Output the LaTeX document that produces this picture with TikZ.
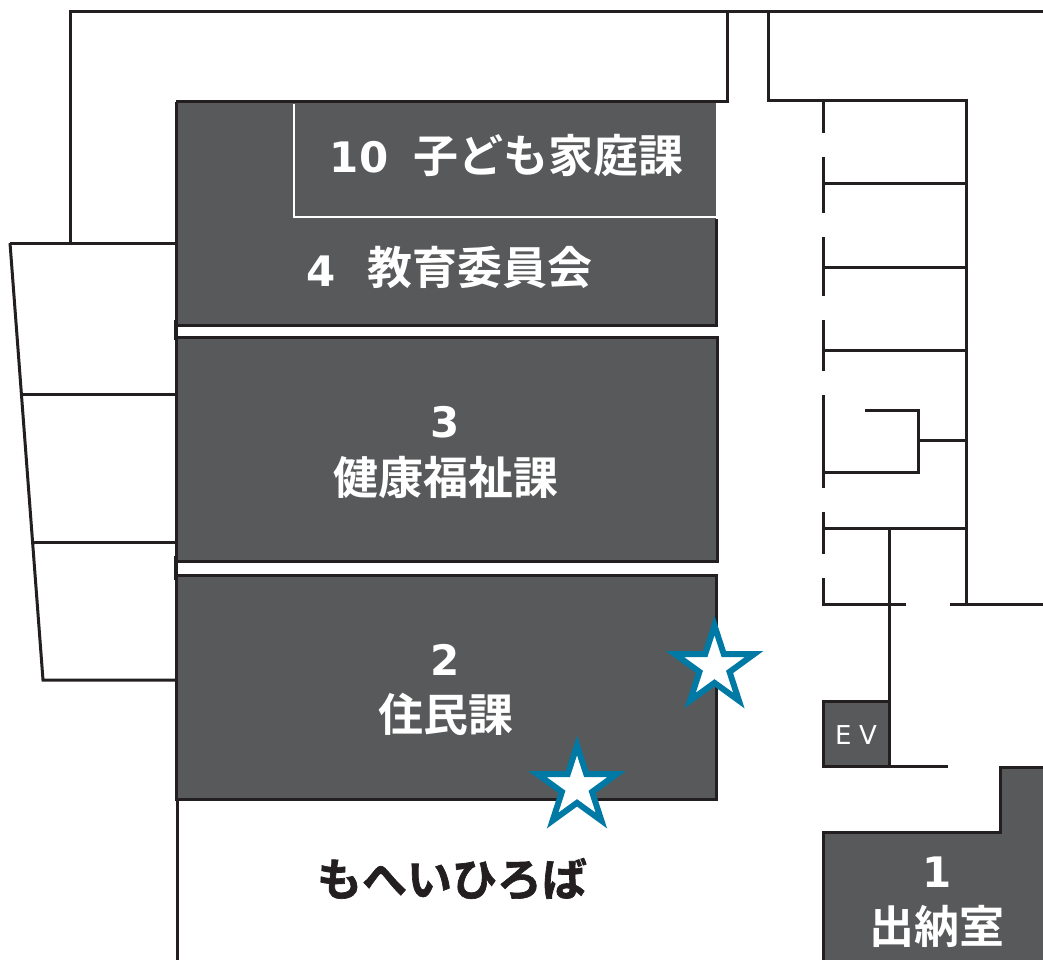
\documentclass[tikz,border=0pt]{standalone}
\usepackage{fontspec}
\usetikzlibrary{shapes.geometric}
\setmainfont{DejaVu Sans}[BoldFont={DejaVu Sans Bold}]
\newfontfamily\jpfont{Noto Sans CJK JP}[BoldFont={Noto Sans CJK JP Bold}]
\newfontfamily\jpheavy{Noto Sans CJK JP Bold}[FakeBold=1.5]
\definecolor{roomgrey}{HTML}{58595B}
\definecolor{wall}{HTML}{231F20}
\definecolor{starblue}{HTML}{0079A5}
\tikzset{
  wallline/.style={draw=wall,line width=3pt,line cap=butt},
  room/.style={fill=roomgrey,draw=wall,line width=3pt,miter limit=10},
  numlabel/.style={text=white,font=\fontsize{42}{42}\selectfont\bfseries,inner sep=0pt},
  jplabel/.style={text=white,font=\fontsize{45}{45}\selectfont\jpfont\bfseries,inner sep=0pt},
  mapstar/.style={star,star points=5,star point ratio=2.618,draw=starblue,fill=white,line width=6pt,minimum size=83pt,inner sep=0pt,miter limit=10}
}
\begin{document}
\begin{tikzpicture}[x=1pt,y=-1pt]
\useasboundingbox (0,0) rectangle (1043,960);
% outer walls
\draw[wallline] (70,243) -- (70,12) -- (1043,12);
\draw[wallline] (727,12) -- (727,102) -- (176,102);
\draw[wallline] (768,12) -- (768,101) -- (966,101) -- (966,604) -- (1043,604);
\draw[wallline] (10,243) -- (176,243);
\draw[wallline] (10,243) -- (43,680) -- (176,680);
\draw[wallline] (22,394) -- (176,394);
\draw[wallline] (33,542) -- (176,542);
\draw[wallline] (177,790) -- (177,960);
\draw[draw=wall,line width=3.6pt] (176,320) -- (176,340);
\draw[draw=wall,line width=3.6pt] (176,556) -- (176,580);
% right rooms
\draw[wallline] (823,101) -- (823,133);
\draw[wallline] (823,157) -- (823,213);
\draw[wallline] (823,237) -- (823,296);
\draw[wallline] (823,320) -- (823,371);
\draw[wallline] (823,395) -- (823,488);
\draw[wallline] (823,512) -- (823,554);
\draw[wallline] (823,578) -- (823,604) -- (906,604);
\draw[wallline] (950,604) -- (966,604);
\draw[wallline] (823,184) -- (966,184);
\draw[wallline] (823,267) -- (966,267);
\draw[wallline] (823,350) -- (966,350);
\draw[wallline] (865,410) -- (918,410) -- (918,472) -- (823,472);
\draw[wallline] (918,440) -- (966,440);
\draw[wallline] (823,528) -- (966,528);
\draw[wallline] (889,530) -- (889,702);
\draw[wallline] (889,766) -- (948,766);
% rooms
\fill[roomgrey] (176,103.4) rectangle (716,325);
\draw[draw=wall,line width=3pt] (716,219) -- (716,325) -- (176,325) -- (176,102);
\path[room] (176,337) rectangle (717,561);
\path[room] (176,575) rectangle (716,799);
\path[room] (823,701) rectangle (889,766);
\path[room] (1045,767) -- (1000,767) -- (1000,832) -- (823,832) -- (823,962) -- (1045,962) -- cycle;
\draw[draw=white,line width=2.6pt] (294,104) -- (294,217) -- (717,217);
% labels
\node[numlabel,anchor=base] (n10) at (359,172) {10};
\node[jplabel,anchor=base] (t10) at (548,172) {子ども家庭課};
\node[numlabel,anchor=base] (n4) at (321,286) {4};
\node[jplabel,anchor=base] (t4) at (479.5,284) {教育委員会};
\node[numlabel,anchor=base] (n3) at (445,437) {3};
\node[jplabel,anchor=base] (t3) at (445.5,494) {健康福祉課};
\node[numlabel,anchor=base] (n2) at (445,675) {2};
\node[jplabel,anchor=base] (t2) at (445.5,731) {住民課};
\node[numlabel,anchor=base] (n1) at (937,887) {1};
\node[jplabel,anchor=base] (t1) at (937,943) {出納室};
\node[text=white,font=\fontsize{26}{26}\selectfont,anchor=base,inner sep=0pt] (ev) at (856,744) {E\hspace{0.3em}V};
\node[text=wall,font=\fontsize{45}{45}\selectfont\jpheavy,inner sep=0pt,anchor=base] (plaza) at (452,896) {もへいひろば};
% stars
\node[mapstar] (s1) at (714.5,667) {};
\node[mapstar] (s2) at (577,787) {};
\end{tikzpicture}
\end{document}
